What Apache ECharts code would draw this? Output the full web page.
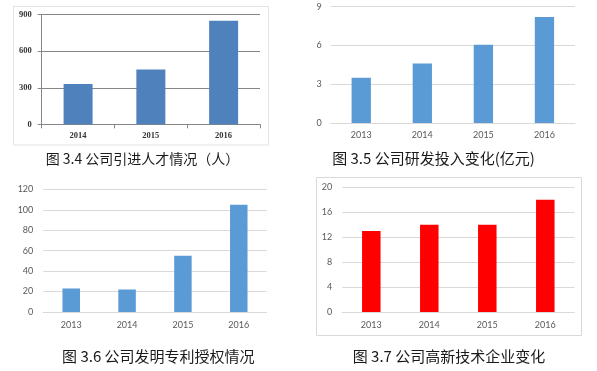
<!DOCTYPE html>
<html>
<head>
<meta charset="utf-8">
<script src="https://cdn.jsdelivr.net/npm/echarts@6/dist/echarts.min.js"></script>
<style>
html,body{margin:0;padding:0;background:#fff;}
#c{width:597px;height:371px;}
</style>
</head>
<body>
<div id="c"></div>
<script>
// Data
const cat1 = ['2014', '2015', '2016'];
const talent = [330, 450, 850];            // 图3.4 引进人才(人)
const catYears = ['2013', '2014', '2015', '2016'];
const rdInvest = [3.5, 4.6, 6.05, 8.2];    // 图3.5 研发投入(亿元)
const patents = [23, 22, 55, 105];         // 图3.6 发明专利授权
const hiTech = [13, 14, 14, 18];           // 图3.7 高新技术企业
const captions = [
  '图 3.4 公司引进人才情况（人）',
  '图 3.5 公司研发投入变化(亿元)',
  '图 3.6 公司发明专利授权情况',
  '图 3.7 公司高新技术企业变化'
];

const chart = echarts.init(document.getElementById('c'), null, {renderer: 'canvas'});

const sansLabel = {fontFamily: 'Lato, "Liberation Sans", sans-serif', fontSize: 9, color: '#595959'};
const serifLabel = {fontFamily: '"Liberation Serif", serif', fontSize: 8.5, fontWeight: 'bold', color: '#333'};

function grid(l, t, w, h) { return {left: l, top: t, width: w, height: h, containLabel: false}; }

const option = {
  animation: false,
  grid: [
    grid(41.7, 14.7, 218.3, 109.6),
    grid(330.7, 6.7, 244.3, 116.3),
    grid(43.3, 189.3, 223.4, 122.7),
    grid(342.3, 187.3, 232, 124.7)
  ],
  xAxis: [
    {gridIndex: 0, type: 'category', data: cat1,
      axisLine: {lineStyle: {color: '#868686', width: 1}},
      axisTick: {show: true, length: 4, lineStyle: {color: '#868686'}},
      axisLabel: Object.assign({margin: 7}, serifLabel)},
    {gridIndex: 1, type: 'category', data: catYears,
      axisLine: {lineStyle: {color: '#d9d9d9'}}, axisTick: {show: false},
      axisLabel: Object.assign({margin: 8}, sansLabel)},
    {gridIndex: 2, type: 'category', data: catYears,
      axisLine: {lineStyle: {color: '#d9d9d9'}}, axisTick: {show: false},
      axisLabel: Object.assign({margin: 9}, sansLabel)},
    {gridIndex: 3, type: 'category', data: catYears,
      axisLine: {lineStyle: {color: '#d9d9d9'}}, axisTick: {show: false},
      axisLabel: Object.assign({margin: 9}, sansLabel)}
  ],
  yAxis: [
    {gridIndex: 0, type: 'value', min: 0, max: 900, interval: 300,
      axisLine: {show: true, lineStyle: {color: '#868686'}},
      axisTick: {show: true, length: 4, lineStyle: {color: '#868686'}},
      splitLine: {lineStyle: {color: '#868686'}},
      axisLabel: Object.assign({margin: 10}, serifLabel)},
    {gridIndex: 1, type: 'value', min: 0, max: 9, interval: 3,
      axisLine: {show: false}, axisTick: {show: false},
      splitLine: {lineStyle: {color: '#d9d9d9'}},
      axisLabel: Object.assign({margin: 9}, sansLabel)},
    {gridIndex: 2, type: 'value', min: 0, max: 120, interval: 20,
      axisLine: {show: false}, axisTick: {show: false},
      splitLine: {lineStyle: {color: '#d9d9d9'}},
      axisLabel: Object.assign({margin: 10}, sansLabel)},
    {gridIndex: 3, type: 'value', min: 0, max: 20, interval: 4,
      axisLine: {show: false}, axisTick: {show: false},
      splitLine: {lineStyle: {color: '#d9d9d9'}},
      axisLabel: Object.assign({margin: 10}, sansLabel)}
  ],
  series: [
    {type: 'bar', xAxisIndex: 0, yAxisIndex: 0, data: talent, barWidth: 29,
      itemStyle: {color: '#4f81bd'}},
    {type: 'bar', xAxisIndex: 1, yAxisIndex: 1, data: rdInvest, barWidth: 19.3,
      itemStyle: {color: '#5b9bd5'}},
    {type: 'bar', xAxisIndex: 2, yAxisIndex: 2, data: patents, barWidth: 17.5,
      itemStyle: {color: '#5b9bd5'}},
    {type: 'bar', xAxisIndex: 3, yAxisIndex: 3, data: hiTech, barWidth: 18.5,
      itemStyle: {color: '#ff0000'}}
  ],
  graphic: [
    {type: 'rect', z: -1, shape: {x: 13.5, y: 6.5, width: 255, height: 138.5},
      style: {fill: 'none', stroke: '#e3e3e3', lineWidth: 1}},
    {type: 'rect', z: -1, shape: {x: 316.5, y: 177.5, width: 265, height: 158},
      style: {fill: 'none', stroke: '#d9d9d9', lineWidth: 1}},
    {type: 'text', style: {x: 142.5, y: 159, text: captions[0], textAlign: 'center', textVerticalAlign: 'middle',
      font: '14px "Noto Sans CJK SC", sans-serif', fill: '#1a1a1a'}},
    {type: 'text', style: {x: 433.5, y: 158, text: captions[1], textAlign: 'center', textVerticalAlign: 'middle',
      font: '15px "Noto Sans CJK SC", sans-serif', fill: '#1a1a1a'}},
    {type: 'text', style: {x: 158.3, y: 356.7, text: captions[2], textAlign: 'center', textVerticalAlign: 'middle',
      font: '15px "Noto Sans CJK SC", sans-serif', fill: '#1a1a1a'}},
    {type: 'text', style: {x: 449, y: 356.7, text: captions[3], textAlign: 'center', textVerticalAlign: 'middle',
      font: '15px "Noto Sans CJK SC", sans-serif', fill: '#1a1a1a'}}
  ]
};
chart.setOption(option);
</script>
</body>
</html>
